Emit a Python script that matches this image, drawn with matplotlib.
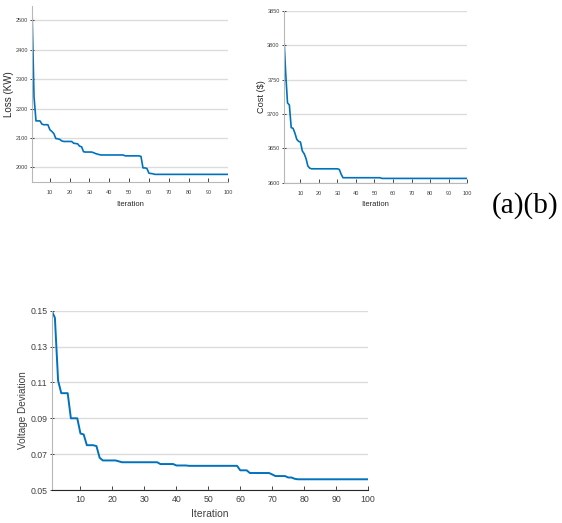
import numpy as np
import matplotlib
matplotlib.use("Agg")
import matplotlib.pyplot as plt

plt.rcParams['font.family'] = ['Liberation Sans Narrow', 'Liberation Sans', 'DejaVu Sans']

iters = np.arange(1, 101)

# (a) power loss per iteration
loss = ([2535, 2240, 2158, 2158, 2158, 2147, 2145, 2145, 2145, 2128,
         2122, 2115, 2098, 2097, 2095, 2090, 2088, 2088, 2088, 2088,
         2088, 2082, 2081, 2080, 2072, 2070, 2053, 2052, 2052, 2052,
         2052, 2050, 2047, 2045, 2043]
        + [2042] * 12 + [2039] * 8
        + [2037, 1998, 1998, 1996, 1980, 1979, 1978]
        + [1976] * 38)

# (b) cost per iteration
cost = ([3815, 3760, 3716, 3713, 3680, 3679, 3672, 3663, 3660, 3659,
         3646, 3642, 3635, 3624, 3621]
        + [3620] * 15 + [3619, 3612]
        + [3607] * 21 + [3606] * 47)

# voltage deviation per iteration
vdev = ([0.150, 0.146, 0.111, 0.104, 0.104, 0.104, 0.090, 0.090, 0.090, 0.0815,
         0.081, 0.075, 0.075, 0.075, 0.0745, 0.068, 0.0665, 0.0665, 0.0665, 0.0665,
         0.0665, 0.066]
        + [0.0655] * 12 + [0.0645] * 5
        + [0.0637] * 4 + [0.0635] * 16
        + [0.061, 0.061, 0.061, 0.0595, 0.0595, 0.0595, 0.0595, 0.0595, 0.0595, 0.0595,
           0.0587, 0.0578, 0.0578, 0.0578, 0.0578, 0.057, 0.057, 0.0563]
        + [0.056] * 23)

blue = '#0072BD'
axcol = '#262626'
light = '#b8b8b8'
label_font = ['Liberation Sans', 'DejaVu Sans']

W, H = 562, 523


def style(ax, fs, bottom_col, xpad):
    for s in ['top', 'right']:
        ax.spines[s].set_visible(False)
    ax.spines['left'].set_color(light)
    ax.spines['bottom'].set_color(bottom_col)
    ax.spines['left'].set_linewidth(0.8)
    ax.spines['bottom'].set_linewidth(0.8)
    ax.yaxis.grid(True, color='#dcdcdc', linewidth=1.0)
    ax.set_axisbelow(True)
    ax.tick_params(axis='x', direction='in', length=3, width=0.6, color=axcol,
                   labelcolor='#404040', labelsize=fs, pad=xpad)
    ax.tick_params(axis='y', direction='inout', length=3, width=0.6, color=axcol,
                   labelcolor='#404040', labelsize=fs, pad=1.5)
    ax.set_xlim(1, 100)
    ax.set_xticks(range(10, 101, 10))


def ylab(x, y, s, fs, col):
    # y-axis title placed in figure pixels
    fig.text(x / W, 1 - y / H, s, rotation=90, ha='center', va='center',
             fontsize=fs, color=col, family=label_font)


fig = plt.figure(figsize=(5.62, 5.23), dpi=100)

ax1 = fig.add_axes([0.057, 0.652, 0.349, 0.337])
ax1.plot(iters, loss, color=blue, lw=1.2)
style(ax1, 4, light, 6)
ax1.set_ylim(1950, 2550)
ax1.set_yticks([2000, 2100, 2200, 2300, 2400, 2500])
ax1.set_xlabel('Iteration', fontsize=5.5, color=axcol, labelpad=4)
ylab(9.5, 94, 'Loss (KW)', 7.0, axcol)

ax2 = fig.add_axes([0.505, 0.651, 0.326, 0.328])
ax2.plot(iters, cost, color=blue, lw=1.2)
style(ax2, 4, light, 6)
ax2.set_ylim(3600, 3850)
ax2.set_yticks([3600, 3650, 3700, 3750, 3800, 3850])
ax2.set_xlabel('Iteration', fontsize=5.5, color=axcol, labelpad=4)
ylab(261.5, 97, 'Cost ($)', 6.6, axcol)

ax3 = fig.add_axes([0.092, 0.063, 0.563, 0.343])
ax3.plot(iters, vdev, color=blue, lw=1.4)
style(ax3, 6.3, axcol, 3.5)
ax3.set_ylim(0.05, 0.15)
ax3.set_yticks([0.05, 0.07, 0.09, 0.11, 0.13, 0.15])
ax3.set_yticklabels(['0.05', '0.07', '0.09', '0.11', '0.13', '0.15'])
ax3.set_xlabel('Iteration', fontsize=7.5, color='#404040', labelpad=4)
ylab(23.5, 410, 'Voltage Deviation', 7.2, '#404040')

fig.text(0.934, 0.607, '(a)(b)', fontsize=21, family=['Liberation Serif', 'DejaVu Serif'],
         ha='center', va='center', color='black')

fig.savefig('out.png', dpi=100)
